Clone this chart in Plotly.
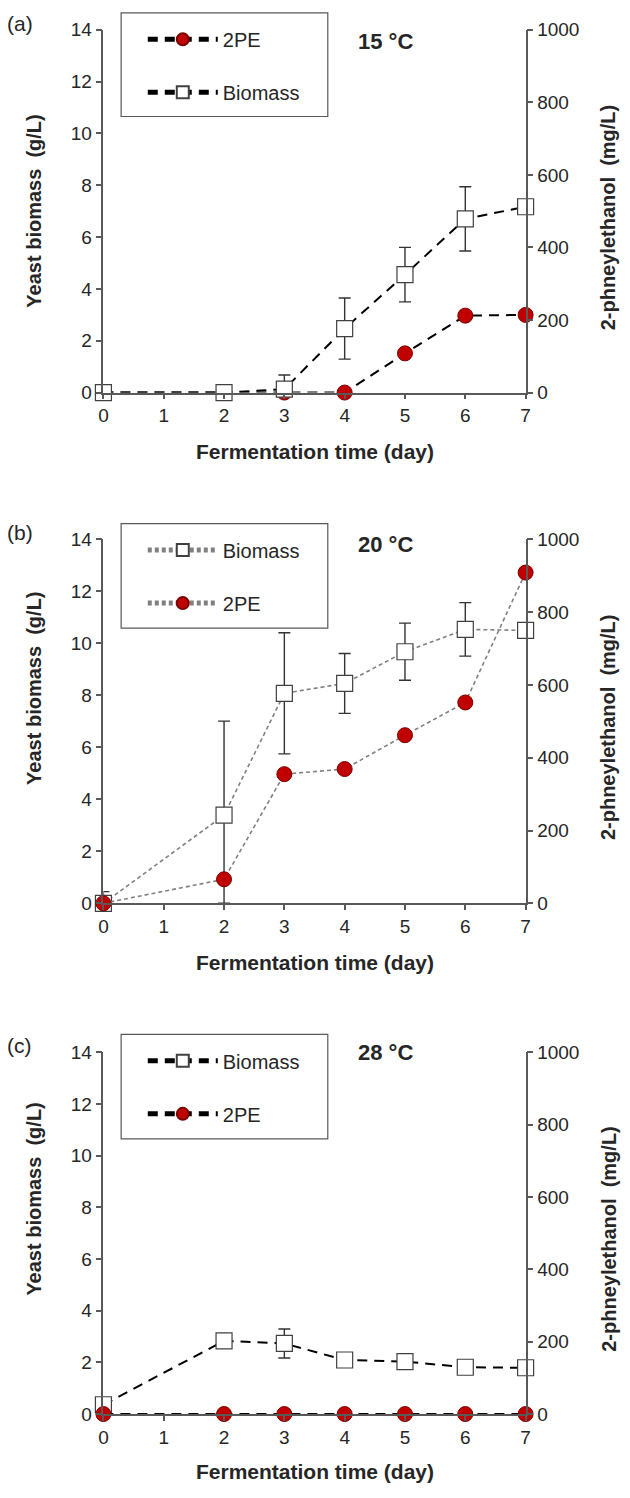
import plotly.graph_objects as go

# ---------------- data ----------------
days = [0, 2, 3, 4, 5, 6, 7]
x_ticks = [0, 1, 2, 3, 4, 5, 6, 7]
y_left_ticks = [0, 2, 4, 6, 8, 10, 12, 14]
y_right_ticks = [0, 200, 400, 600, 800, 1000]

# (a) 15 °C
a_biomass = [0.0, 0.0, 0.13, 2.47, 4.55, 6.70, 7.17]
a_biomass_err_plus = [0.0, 0.0, 0.55, 1.18, 1.05, 1.24, 0.0]
a_biomass_err_minus = [0.0, 0.0, 0.13, 1.18, 1.05, 1.24, 0.0]
a_2pe = [0, 0, 0, 0, 108, 212, 214]

# (b) 20 °C
b_biomass = [0.0, 3.39, 8.08, 8.46, 9.68, 10.54, 10.50]
b_biomass_err_plus = [0.45, 3.62, 2.33, 1.15, 1.10, 1.03, 0.0]
b_biomass_err_minus = [0.0, 3.39, 2.33, 1.15, 1.10, 1.03, 0.0]
b_2pe = [0, 66, 355, 369, 462, 552, 909]

# (c) 28 °C
c_biomass = [0.36, 2.83, 2.73, 2.09, 2.03, 1.81, 1.79]
c_biomass_err_plus = [0.0, 0.0, 0.56, 0.0, 0.0, 0.0, 0.0]
c_biomass_err_minus = [0.0, 0.0, 0.56, 0.0, 0.0, 0.0, 0.0]
c_2pe = [0, 0, 0, 0, 0, 0, 0]

panel_labels = ["(a)", "(b)", "(c)"]
temps = ["15 °C", "20 °C", "28 °C"]
x_title = "Fermentation time (day)"
y_left_title = "Yeast biomass  (g/L)"
y_right_title = "2-phneylethanol  (mg/L)"

# ---------------- style ----------------
W, H = 630, 1498
FONT = "Liberation Sans, Arial, sans-serif"
AX = "#595959"
RED = "#c00000"
x_left_px, x_right_px = 100, 529
panels_px = [(20, 388), (537, 906), (1057, 1424)]  # top, bottom in px


def py(px):
    return 1 - px / H


def pxx(px):
    return px / W


fig = go.Figure()

sq_marker = dict(symbol="square", size=16, color="white", line=dict(color="#404040", width=1.2))
ci_marker = dict(symbol="circle", size=15, color=RED, line=dict(color="#7a0000", width=1))
err_style = dict(type="data", symmetric=False, color="#333333", thickness=1.4, width=6)

# panel a : 2PE on base axis (right side), biomass overlaid (left side) -> biomass on top
dash_a = "10px,7px"
fig.add_trace(go.Scatter(x=days, y=a_2pe, name="2PE", mode="lines+markers",
                         line=dict(color="black", width=2, dash=dash_a), marker=ci_marker,
                         xaxis="x", yaxis="y", legend="legend", legendgroup="a1", cliponaxis=False))
fig.add_trace(go.Scatter(x=days, y=a_biomass, name="Biomass", mode="lines+markers",
                         line=dict(color="black", width=2, dash=dash_a), marker=sq_marker,
                         error_y=dict(array=a_biomass_err_plus, arrayminus=a_biomass_err_minus, **err_style),
                         xaxis="x", yaxis="y2", legend="legend", legendgroup="a2", cliponaxis=False))

# panel b : biomass base (left), 2PE overlay (right)
dash_b = "4px,3px"
fig.add_trace(go.Scatter(x=days, y=b_biomass, name="Biomass", mode="lines+markers",
                         line=dict(color="#808080", width=1.6, dash=dash_b), marker=sq_marker,
                         error_y=dict(array=b_biomass_err_plus, arrayminus=b_biomass_err_minus, **err_style),
                         xaxis="x2", yaxis="y3", legend="legend2", legendgroup="b1", cliponaxis=False))
fig.add_trace(go.Scatter(x=days, y=b_2pe, name="2PE", mode="lines+markers",
                         line=dict(color="#808080", width=1.6, dash=dash_b), marker=ci_marker,
                         xaxis="x2", yaxis="y4", legend="legend2", legendgroup="b2", cliponaxis=False))

# panel c
fig.add_trace(go.Scatter(x=days, y=c_biomass, name="Biomass", mode="lines+markers",
                         line=dict(color="black", width=2, dash=dash_a), marker=sq_marker,
                         error_y=dict(array=c_biomass_err_plus, arrayminus=c_biomass_err_minus, **err_style),
                         xaxis="x3", yaxis="y5", legend="legend3", legendgroup="c1", cliponaxis=False))
fig.add_trace(go.Scatter(x=days, y=c_2pe, name="2PE", mode="lines+markers",
                         line=dict(color="black", width=2, dash=dash_a), marker=ci_marker,
                         xaxis="x3", yaxis="y6", legend="legend3", legendgroup="c2", cliponaxis=False))

tickfont = dict(family=FONT, size=19, color="#262626")
xdom = [pxx(x_left_px), pxx(x_right_px)]


def xaxis(anchor):
    return dict(domain=xdom, range=[0, 7], tickvals=x_ticks, ticks="outside", ticklen=5,
                tickwidth=1.5, tickcolor=AX, showline=True, linecolor=AX, linewidth=1.5,
                showgrid=False, zeroline=False, tickfont=tickfont, anchor=anchor, fixedrange=True)


def yleft(dom, anchor, overlay=None):
    d = dict(domain=dom, range=[0, 14], tickvals=y_left_ticks, side="left", ticks="outside",
             ticklen=6, tickwidth=1.5, tickcolor=AX, showline=True, linecolor=AX, linewidth=1.5,
             showgrid=False, zeroline=False, tickfont=tickfont, anchor=anchor)
    if overlay:
        d["overlaying"] = overlay
        d.pop("domain")
    return d


def yright(dom, anchor, overlay=None):
    d = dict(domain=dom, range=[0, 1000], tickvals=y_right_ticks, side="right", ticks="outside",
             ticklen=6, tickwidth=1.5, tickcolor=AX, showline=True, linecolor=AX, linewidth=1.5,
             showgrid=False, zeroline=False, tickfont=tickfont, anchor=anchor)
    if overlay:
        d["overlaying"] = overlay
        d.pop("domain")
    return d


doms = [[py(b), py(t)] for (t, b) in panels_px]

legend_boxes = [(118, 3, 328, 108), (118, 521, 328, 627), (118, 1039, 328, 1145)]


def legend_cfg(box):
    x0, y0, x1, y1 = box
    return dict(x=pxx(x0 + 22), y=py(y0 + 7), xanchor="left", yanchor="top",
                bgcolor="rgba(0,0,0,0)", borderwidth=0, tracegroupgap=24,
                font=dict(family=FONT, size=20, color="#262626"), itemsizing="constant",
                itemwidth=70)


fig.update_layout(
    width=W, height=H, margin=dict(l=0, r=0, t=0, b=0),
    paper_bgcolor="white", plot_bgcolor="white", showlegend=True,
    xaxis=xaxis("y"), yaxis=yright(doms[0], "x"), yaxis2=yleft(doms[0], "x", overlay="y"),
    xaxis2=xaxis("y3"), yaxis3=yleft(doms[1], "x2"), yaxis4=yright(doms[1], "x2", overlay="y3"),
    xaxis3=xaxis("y5"), yaxis5=yleft(doms[2], "x3"), yaxis6=yright(doms[2], "x3", overlay="y5"),
    legend=legend_cfg(legend_boxes[0]), legend2=legend_cfg(legend_boxes[1]),
    legend3=legend_cfg(legend_boxes[2]),
)

shapes = []
for (x0, y0, x1, y1) in legend_boxes:
    shapes.append(dict(type="rect", xref="paper", yref="paper", x0=pxx(x0), x1=pxx(x1),
                       y0=py(y1), y1=py(y0), line=dict(color="#595959", width=1.2),
                       fillcolor="rgba(0,0,0,0)", layer="above"))
fig.update_layout(shapes=shapes)

ann = []
label_y = [14, 530, 1050]
temp_y = [32, 542, 1057]
left_title_y = [204, 688, 1206]
right_title_y = [210, 727, 1246]
xtitle_y = [448, 966, 1482]


def note(text, x, y, size, angle=0):
    return dict(text=text, x=pxx(x), y=py(y), xref="paper", yref="paper", showarrow=False,
                xanchor="center", yanchor="middle", textangle=angle,
                font=dict(family=FONT, size=size, color="#262626"))


for i in range(3):
    ann.append(note(panel_labels[i], 15, label_y[i], 21))
    ann.append(note("<b>" + temps[i] + "</b>", 387, temp_y[i], 22))
    ann.append(note("<b>" + y_left_title + "</b>", 30, left_title_y[i], 20, -90))
    ann.append(note("<b>" + y_right_title + "</b>", 613, right_title_y[i], 20, -90))
    ann.append(note("<b>" + x_title + "</b>", 315, xtitle_y[i], 21))
fig.update_layout(annotations=ann)

fig.write_html("out.html", config={"displayModeBar": False},
               post_script="document.body.style.margin='0';document.body.style.overflow='hidden';")
